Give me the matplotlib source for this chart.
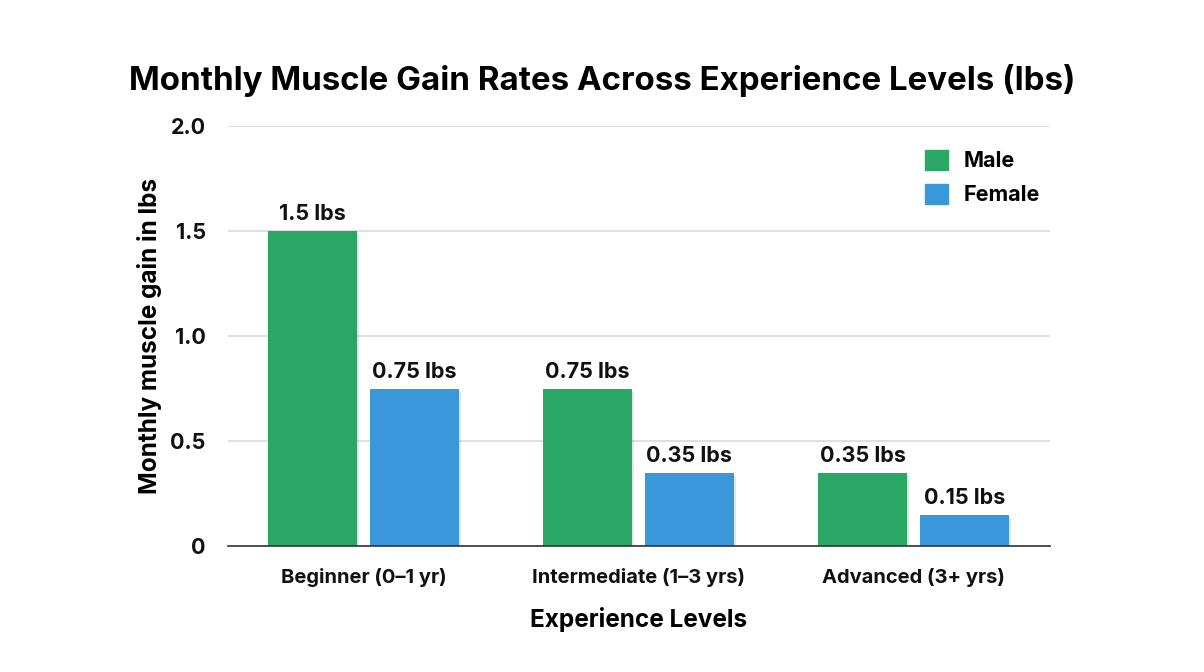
import matplotlib
matplotlib.use("Agg")
import matplotlib.pyplot as plt
import matplotlib.patheffects as pe
from matplotlib.patches import Patch
import numpy as np

plt.rcParams["font.family"] = ["Inter", "DejaVu Sans"]

categories = ["Beginner (0\u20131 yr)", "Intermediate (1\u20133 yrs)", "Advanced (3+ yrs)"]
male = [1.5, 0.75, 0.35]
female = [0.75, 0.35, 0.15]
male_labels = ["1.5 lbs", "0.75 lbs", "0.35 lbs"]
female_labels = ["0.75 lbs", "0.35 lbs", "0.15 lbs"]
yticks = [0, 0.5, 1.0, 1.5, 2.0]
ytick_labels = ["0", "0.5", "1.0", "1.5", "2.0"]

GREEN = "#2ba765"
BLUE = "#3a97da"

fig = plt.figure(figsize=(12.04, 6.72), dpi=100)
ax = fig.add_axes([0.1894, 0.1875, 0.6826, 0.625])

x = np.arange(len(categories))
w = 0.324
off = 0.185
shadow = [pe.SimplePatchShadow(offset=(1.5, -2.5), shadow_rgbFace="#000000", alpha=0.10), pe.Normal()]
b1 = ax.bar(x - off, male, w, color=GREEN, zorder=3, path_effects=shadow)
b2 = ax.bar(x + off, female, w, color=BLUE, zorder=3, path_effects=shadow)

for bars, labels in [(b1, male_labels), (b2, female_labels)]:
    for b, lab in zip(bars, labels):
        ax.annotate(lab, (b.get_x() + b.get_width() / 2, b.get_height()),
                    xytext=(0, 5), textcoords="offset points",
                    ha="center", va="bottom", fontsize=15.5, fontweight="bold", color="#111111")

ax.set_xlim(-0.493, 2.496)
ax.set_ylim(0, 2.0)
ax.set_yticks(yticks)
ax.set_yticklabels(ytick_labels, fontsize=15.5, fontweight="bold", color="#111111")
ax.set_xticks(x)
ax.set_xticklabels(categories, fontsize=14.5, fontweight="bold", color="#111111")
ax.tick_params(axis="both", length=0)
ax.tick_params(axis="y", pad=16)
ax.tick_params(axis="x", pad=16)
ax.grid(axis="y", color="#d9d9d9", linewidth=1.2, zorder=0)
ax.set_axisbelow(True)
for s in ["top", "right", "left"]:
    ax.spines[s].set_visible(False)
ax.spines["bottom"].set_color("#333333")
ax.spines["bottom"].set_linewidth(1.2)
ax.spines["bottom"].set_zorder(4)

ax.set_ylabel("Monthly muscle gain in lbs", fontsize=17.5, fontweight="bold", labelpad=6)
ax.set_xlabel("Experience Levels", fontsize=17.5, fontweight="bold", labelpad=14)

fig.suptitle("Monthly Muscle Gain Rates Across Experience Levels (lbs)",
             x=0.5, y=0.905, fontsize=23.8, fontweight="bold")

handles = [Patch(color=GREEN, label="Male"), Patch(color=BLUE, label="Female")]
ax.legend(handles=handles, loc="upper right", bbox_to_anchor=(1.012, 0.99), frameon=False,
          prop={"size": 15.5, "weight": "bold"}, handlelength=1.05, handleheight=1.05,
          labelspacing=0.6, handletextpad=0.75)

fig.savefig("out.png", dpi=100)
